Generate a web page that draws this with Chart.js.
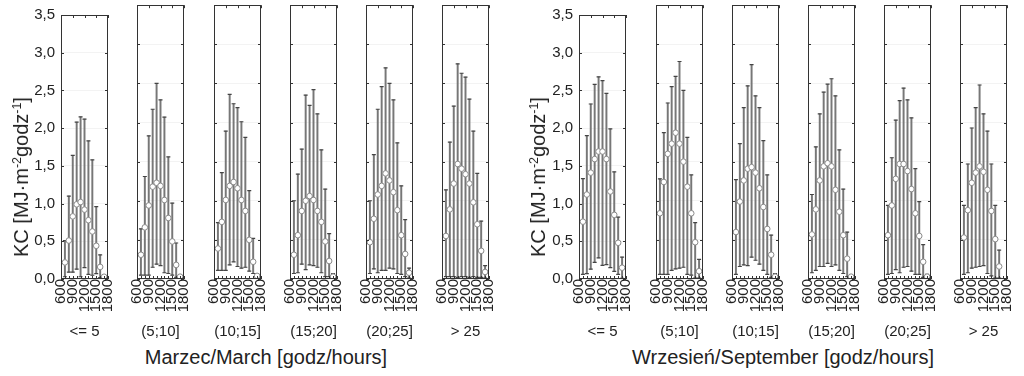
<!DOCTYPE html>
<html>
<head>
<meta charset="utf-8">
<script src="https://cdn.jsdelivr.net/npm/chart.js@4.4.1/dist/chart.umd.min.js"></script>
<style>
  body { margin: 0; background: #fff; width: 1024px; height: 376px; position: relative; overflow: hidden;
         font-family: "Liberation Sans", Arial, sans-serif; color: #222; }
  canvas { position: absolute; top: 0; }
  .ytitle { position: absolute; transform: translate(-50%, -50%) rotate(-90deg); white-space: nowrap; font-size: 20px; line-height: 1; }
  .gtitle { position: absolute; transform: translateX(-50%); white-space: nowrap; font-size: 20px; line-height: 1; top: 347px; }
  sup { font-size: 0.62em; vertical-align: 0.6em; line-height: 0; }
</style>
</head>
<body>
<script>
// hours on the x axis (600 ... 1800), bars sit on 700 ... 1700
const hours = ["600", "700", "800", "900", "1000", "1100", "1200", "1300", "1400", "1500", "1600", "1700", "1800"];
const categories = ["<= 5", "(5;10]", "(10;15]", "(15;20]", "(20;25]", "> 25"];

// Marzec / March
const marchMax = [
  [0.51, 1.10, 1.64, 2.08, 2.15, 2.12, 1.83, 1.58, 0.96, 0.32, 0.05],
  [0.64, 1.31, 1.83, 2.17, 2.50, 2.29, 2.07, 1.56, 0.97, 0.46, 0.05],
  [0.72, 1.36, 1.89, 2.36, 2.24, 2.19, 2.01, 1.81, 1.13, 0.52, 0.07],
  [1.00, 1.34, 1.66, 2.35, 2.22, 2.42, 2.11, 1.65, 1.15, 0.58, 0.07],
  [1.00, 1.59, 2.17, 2.46, 2.70, 2.50, 2.29, 1.74, 1.19, 0.76, 0.14],
  [1.14, 1.75, 2.21, 2.75, 2.63, 2.58, 2.30, 1.89, 1.35, 0.74, 0.17]
];
const marchMean = [
  [0.22, 0.51, 0.83, 0.99, 1.02, 0.92, 0.78, 0.63, 0.44, 0.16, 0.03],
  [0.31, 0.66, 0.94, 1.18, 1.23, 1.19, 1.01, 0.78, 0.48, 0.18, 0.03],
  [0.39, 0.73, 1.01, 1.19, 1.24, 1.16, 1.01, 0.87, 0.50, 0.22, 0.04],
  [0.31, 0.56, 0.87, 1.00, 1.06, 1.01, 0.87, 0.73, 0.48, 0.23, 0.03],
  [0.47, 0.77, 1.08, 1.19, 1.35, 1.26, 1.11, 0.88, 0.56, 0.32, 0.08],
  [0.55, 0.89, 1.22, 1.47, 1.41, 1.34, 1.22, 0.98, 0.70, 0.36, 0.09]
];
const marchMin = [
  [0.03, 0.09, 0.09, 0.13, 0.03, 0.15, 0.06, 0.05, 0.07, 0.02, 0.00],
  [0.05, 0.05, 0.05, 0.15, 0.19, 0.17, 0.08, 0.07, 0.05, 0.02, 0.00],
  [0.11, 0.11, 0.11, 0.18, 0.22, 0.16, 0.14, 0.15, 0.10, 0.07, 0.00],
  [0.07, 0.08, 0.19, 0.12, 0.18, 0.17, 0.15, 0.08, 0.03, 0.03, 0.00],
  [0.07, 0.13, 0.08, 0.11, 0.11, 0.14, 0.13, 0.07, 0.06, 0.03, 0.01],
  [0.03, 0.03, 0.03, 0.02, 0.03, 0.03, 0.02, 0.03, 0.02, 0.02, 0.01]
];

// Wrzesień / September
const septMax = [
  [1.33, 1.90, 2.32, 2.58, 2.68, 2.63, 2.46, 1.99, 1.42, 0.82, 0.29],
  [1.28, 1.87, 2.25, 2.46, 2.59, 2.78, 2.41, 1.81, 1.33, 0.72, 0.25],
  [1.27, 1.73, 2.19, 2.47, 2.74, 2.34, 2.19, 1.77, 1.33, 0.56, 0.07],
  [1.08, 1.69, 2.11, 2.39, 2.49, 2.56, 2.34, 1.65, 1.15, 0.60, 0.04],
  [0.94, 1.55, 2.03, 2.28, 2.44, 2.29, 2.06, 1.41, 0.99, 0.44, 0.06],
  [0.94, 1.47, 1.93, 2.19, 2.48, 2.11, 1.89, 1.47, 0.94, 0.37, null]
];
const septMean = [
  [0.76, 1.12, 1.41, 1.59, 1.69, 1.69, 1.59, 1.16, 0.85, 0.48, 0.15],
  [0.84, 1.24, 1.60, 1.73, 1.87, 1.73, 1.50, 1.18, 0.84, 0.47, 0.10],
  [0.60, 0.99, 1.26, 1.41, 1.43, 1.36, 1.16, 0.92, 0.64, 0.31, 0.03],
  [0.57, 0.89, 1.26, 1.44, 1.48, 1.44, 1.14, 0.86, 0.56, 0.26, 0.03],
  [0.56, 0.94, 1.28, 1.47, 1.47, 1.38, 1.15, 0.84, 0.55, 0.22, 0.03],
  [0.53, 0.88, 1.23, 1.36, 1.44, 1.37, 1.14, 0.87, 0.51, 0.16, null]
];
const septMin = [
  [0.06, 0.07, 0.13, 0.22, 0.28, 0.18, 0.19, 0.15, 0.10, 0.06, 0.01],
  [0.06, 0.06, 0.06, 0.11, 0.13, 0.14, 0.15, 0.06, 0.05, 0.01, 0.01],
  [0.06, 0.16, 0.18, 0.17, 0.28, 0.24, 0.19, 0.11, 0.06, 0.02, 0.00],
  [0.08, 0.11, 0.16, 0.16, 0.20, 0.16, 0.18, 0.11, 0.07, 0.03, 0.00],
  [0.06, 0.07, 0.12, 0.08, 0.15, 0.16, 0.10, 0.06, 0.06, 0.02, 0.00],
  [0.06, 0.08, 0.14, 0.15, 0.16, 0.17, 0.07, 0.04, 0.01, 0.01, null]
];

// layout
const BOX_W = 53;
const CANVAS_H = 345;
const groups = [
  { canvasLeft: 0, boxes: [61, 137, 214, 290, 366, 442], max: marchMax, mean: marchMean, min: marchMin,
    title: "Marzec/March [godz/hours]", titleX: 266, yTitleX: 21 },
  { canvasLeft: 540, boxes: [579, 656, 732, 808, 884, 960], max: septMax, mean: septMean, min: septMin,
    title: "Wrzesień/September [godz/hours]", titleX: 783, yTitleX: 538 }
];

const font = { family: "'Liberation Sans', Arial, sans-serif", size: 15 };

// frame with inward tick marks, like the original plots
const boxPlugin = {
  id: "box",
  afterDraw(chart) {
    const { ctx, chartArea: a, scales: { x, y } } = chart;
    ctx.save();
    ctx.strokeStyle = "#333";
    ctx.lineWidth = 1;
    ctx.strokeRect(Math.round(a.left) + 0.5, Math.round(a.top) + 0.5, Math.round(a.width) - 1, Math.round(a.height) - 1);
    ctx.beginPath();
    y.ticks.forEach(t => {
      const py = Math.round(y.getPixelForValue(t.value)) + 0.5;
      ctx.moveTo(a.left, py); ctx.lineTo(a.left + 3, py);
      ctx.moveTo(a.right - 3, py); ctx.lineTo(a.right, py);
    });
    x.ticks.forEach((t, i) => {
      const px = Math.round(x.getPixelForTick(i)) + 0.5;
      ctx.moveTo(px, a.bottom); ctx.lineTo(px, a.bottom - 3);
      if (i % 3 === 0) { ctx.moveTo(px, a.top); ctx.lineTo(px, a.top + 3); }
    });
    ctx.stroke();
    ctx.restore();
  }
};

function pad(arr) {
  return [null, ...arr, null];
}

function makeChart(canvasLeft, boxLeft, first, cat, mx, mn, lo) {
  const padL = boxLeft - canvasLeft;
  const padR = 12;
  const c = document.createElement("canvas");
  c.width = padL + BOX_W + padR;
  c.height = CANVAS_H;
  c.style.left = canvasLeft + "px";
  document.body.appendChild(c);

  const ranges = pad(mx.map((v, i) => (v === null ? null : [lo[i], v])));

  new Chart(c, {
    type: "bar",
    data: {
      labels: hours,
      datasets: [
        { type: "line", data: pad(mn), showLine: false, pointStyle: "circle", pointRadius: 2.8,
          pointBackgroundColor: "#fff", pointBorderColor: "#8a8a8a", pointBorderWidth: 1, order: 1 },
        { type: "line", data: pad(mx), showLine: false, pointStyle: "line", pointRadius: 2,
          pointBorderColor: "#444", pointBorderWidth: 1.2, order: 2 },
        { type: "line", data: pad(lo), showLine: false, pointStyle: "line", pointRadius: 2,
          pointBorderColor: "#444", pointBorderWidth: 1.2, order: 2 },
        { data: ranges, backgroundColor: "#777", borderWidth: 0, barThickness: 1.3,
          barPercentage: 0.3, categoryPercentage: 1, order: 3 }
      ]
    },
    options: {
      responsive: false,
      animation: false,
      layout: { padding: { top: 5, right: padR, left: 0, bottom: 0 } },
      plugins: { legend: { display: false }, tooltip: { enabled: false } },
      scales: {
        x: {
          type: "category",
          offset: false,
          grid: { display: false, tickLength: 0 },
          border: { display: false },
          ticks: {
            autoSkip: false, minRotation: 90, maxRotation: 90, padding: 0, color: "#222", font: font,
            callback: (v, i) => (i % 3 === 0 ? hours[i] : "")
          },
          title: { display: true, text: cat, color: "#222", font: font, padding: { top: 0, bottom: 4 } },
          afterFit: s => { s.height = CANVAS_H - 279; }
        },
        y: {
          min: 0, max: 3.5,
          grid: { display: true, color: "#f3f3f3", drawTicks: false },
          border: { display: false },
          ticks: {
            display: first, stepSize: 0.5, padding: 6, color: "#222", font: font,
            callback: v => v.toFixed(1).replace(".", ",")
          },
          afterFit: s => { s.width = padL; }
        }
      }
    },
    plugins: [boxPlugin]
  });
}

groups.forEach(g => {
  g.boxes.forEach((b, k) => {
    const first = k === 0;
    makeChart(first ? g.canvasLeft : b - 12, b, first, categories[k], g.max[k], g.mean[k], g.min[k]);
  });
  const t = document.createElement("div");
  t.className = "gtitle";
  t.style.left = g.titleX + "px";
  t.textContent = g.title;
  document.body.appendChild(t);
  const yt = document.createElement("div");
  yt.className = "ytitle";
  yt.style.left = g.yTitleX + "px";
  yt.style.top = "177px";
  yt.innerHTML = "KC [MJ·m<sup>-2</sup>godz<sup>-1</sup>]";
  document.body.appendChild(yt);
});
</script>
</body>
</html>
